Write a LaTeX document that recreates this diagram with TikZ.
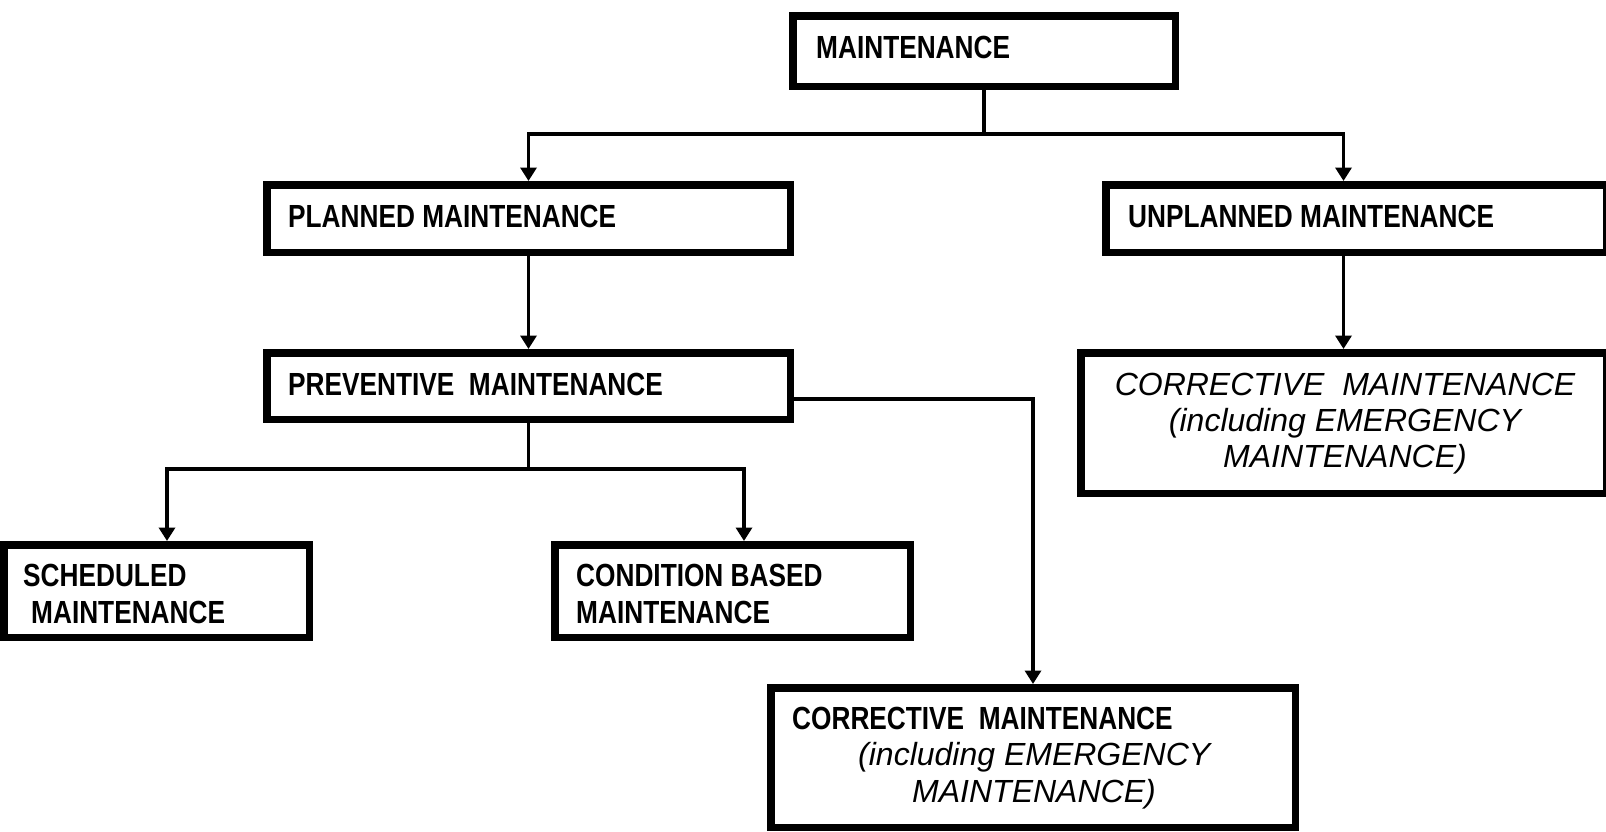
\documentclass[tikz,border=0pt]{standalone}
\usepackage{fontspec}
\setmainfont{Liberation Sans}
\newfontfamily\nbold[FakeStretch=0.82]{Liberation Sans Bold}
\usetikzlibrary{arrows.meta}
\begin{document}
\begin{tikzpicture}[x=1pt,y=-1pt,
  box/.style={draw,line width=7.5pt,rectangle,inner sep=0pt},
  conn/.style={line width=3.5pt},
  arr/.style={-{Triangle[width=16pt,length=13.5pt]}},
  lbl/.style={anchor=base west,inner sep=0pt,font=\fontsize{32}{36}\selectfont\nbold},
  ilbl/.style={anchor=base,inner sep=0pt,font=\fontsize{32}{36}\selectfont\itshape},
  ilblw/.style={anchor=base west,inner sep=0pt,font=\fontsize{32}{36}\selectfont\itshape}]
\clip (0,0) rectangle (1606,831);
% boxes
\node[box,minimum width=382.5pt,minimum height=70.5pt] (top) at (984,51) {};
\node[box,minimum width=523.5pt,minimum height=67.5pt] (planned) at (528.5,218.5) {};
\node[box,minimum width=500.5pt,minimum height=67.5pt] (unplanned) at (1356,218.5) {};
\node[box,minimum width=523.5pt,minimum height=66.5pt] (preventive) at (528.5,386) {};
\node[box,minimum width=525.5pt,minimum height=140.5pt] (corrR) at (1343.5,423) {};
\node[box,minimum width=305.5pt,minimum height=92.5pt] (sched) at (156.5,591) {};
\node[box,minimum width=355.5pt,minimum height=92.5pt] (cond) at (732.5,591) {};
\node[box,minimum width=524.5pt,minimum height=139.5pt] (corrB) at (1033,757.5) {};
% labels
\node[lbl] (t1) at (816,58) {MAINTENANCE};
\node[lbl] (p1) at (288,227) {PLANNED MAINTENANCE};
\node[lbl] (u1) at (1128,227) {UNPLANNED MAINTENANCE};
\node[lbl] (v1) at (288,395) {PREVENTIVE\ \ MAINTENANCE};
\node[ilbl] (r1) at (1345,395) {CORRECTIVE\ \ MAINTENANCE};
\node[ilbl] (r2) at (1345,431) {(including EMERGENCY};
\node[ilbl] (r3) at (1345,467) {MAINTENANCE)};
\node[lbl] (s1) at (23,586) {SCHEDULED};
\node[lbl] (s2) at (31,623) {MAINTENANCE};
\node[lbl] (c1) at (576,586) {CONDITION BASED};
\node[lbl] (c2) at (576,623) {MAINTENANCE};
\node[lbl] (b1) at (792,729) {CORRECTIVE\ \ MAINTENANCE};
\node[ilblw] (b2) at (858,765) {(including EMERGENCY};
\node[ilblw] (b3) at (912,802) {MAINTENANCE)};
% connectors
\draw[conn] (top.south) -- (top.south |- 0,134) coordinate (j1);
\draw[conn,arr] (j1) -| (planned.north);
\draw[conn,arr] (j1) -| (corrR.north |- unplanned.north);
\draw[conn,arr] (planned.south) -- (preventive.north);
\draw[conn,arr] (corrR.north |- unplanned.south) -- (corrR.north);
\draw[conn] (preventive.south) -- (preventive.south |- 0,469) coordinate (j2);
\draw[conn,arr] (j2) -| ([xshift=10.5pt]sched.north);
\draw[conn,arr] (j2) -| ([xshift=11.5pt]cond.north);
\draw[conn,arr] ([yshift=-13pt]preventive.east) -| (corrB.north);
\end{tikzpicture}
\end{document}
